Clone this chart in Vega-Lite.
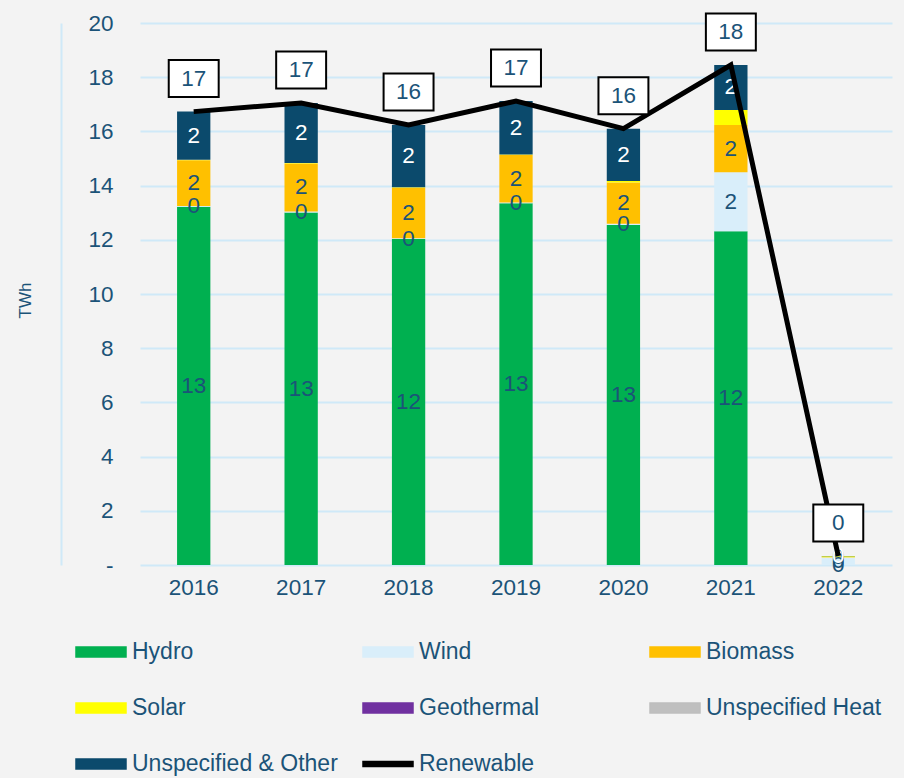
{
  "$schema": "https://vega.github.io/schema/vega-lite/v6.json",
  "width": 752,
  "height": 542,
  "autosize": {"type": "none"},
  "padding": {"left": 140, "top": 23, "right": 12, "bottom": 213},
  "background": "#f3f3f3",
  "config": {
    "view": {"stroke": null},
    "font": "Liberation Sans",
    "axis": {"labelColor": "#1b5378", "titleColor": "#1b5378", "labelFontSize": 22.5, "titleFontWeight": "normal"}
  },
  "data": {
    "values": [
      {"year": "2016", "source": "Hydro", "value": 13.22},
      {"year": "2016", "source": "Wind", "value": 0.03},
      {"year": "2016", "source": "Biomass", "value": 1.69},
      {"year": "2016", "source": "Solar", "value": 0.01},
      {"year": "2016", "source": "Geothermal", "value": 0},
      {"year": "2016", "source": "Unspecified Heat", "value": 0},
      {"year": "2016", "source": "Unspecified & Other", "value": 1.78},
      {"year": "2017", "source": "Hydro", "value": 13.01},
      {"year": "2017", "source": "Wind", "value": 0.03},
      {"year": "2017", "source": "Biomass", "value": 1.78},
      {"year": "2017", "source": "Solar", "value": 0.01},
      {"year": "2017", "source": "Geothermal", "value": 0},
      {"year": "2017", "source": "Unspecified Heat", "value": 0},
      {"year": "2017", "source": "Unspecified & Other", "value": 2.22},
      {"year": "2018", "source": "Hydro", "value": 12.03},
      {"year": "2018", "source": "Wind", "value": 0.03},
      {"year": "2018", "source": "Biomass", "value": 1.86},
      {"year": "2018", "source": "Solar", "value": 0.02},
      {"year": "2018", "source": "Geothermal", "value": 0},
      {"year": "2018", "source": "Unspecified Heat", "value": 0},
      {"year": "2018", "source": "Unspecified & Other", "value": 2.3},
      {"year": "2019", "source": "Hydro", "value": 13.35},
      {"year": "2019", "source": "Wind", "value": 0.03},
      {"year": "2019", "source": "Biomass", "value": 1.75},
      {"year": "2019", "source": "Solar", "value": 0.02},
      {"year": "2019", "source": "Geothermal", "value": 0},
      {"year": "2019", "source": "Unspecified Heat", "value": 0},
      {"year": "2019", "source": "Unspecified & Other", "value": 1.97},
      {"year": "2020", "source": "Hydro", "value": 12.55},
      {"year": "2020", "source": "Wind", "value": 0.04},
      {"year": "2020", "source": "Biomass", "value": 1.52},
      {"year": "2020", "source": "Solar", "value": 0.06},
      {"year": "2020", "source": "Geothermal", "value": 0},
      {"year": "2020", "source": "Unspecified Heat", "value": 0},
      {"year": "2020", "source": "Unspecified & Other", "value": 1.93},
      {"year": "2021", "source": "Hydro", "value": 12.32},
      {"year": "2021", "source": "Wind", "value": 2.17},
      {"year": "2021", "source": "Biomass", "value": 1.75},
      {"year": "2021", "source": "Solar", "value": 0.55},
      {"year": "2021", "source": "Geothermal", "value": 0},
      {"year": "2021", "source": "Unspecified Heat", "value": 0},
      {"year": "2021", "source": "Unspecified & Other", "value": 1.66},
      {"year": "2022", "source": "Hydro", "value": 0},
      {"year": "2022", "source": "Wind", "value": 0.28},
      {"year": "2022", "source": "Biomass", "value": 0.01},
      {"year": "2022", "source": "Solar", "value": 0.03},
      {"year": "2022", "source": "Geothermal", "value": 0},
      {"year": "2022", "source": "Unspecified Heat", "value": 0},
      {"year": "2022", "source": "Unspecified & Other", "value": 0.01}
    ]
  },
  "transform": [
    {"calculate": "indexof(['Hydro','Wind','Biomass','Solar','Geothermal','Unspecified Heat','Unspecified & Other'], datum.source)", "as": "ord"}
  ],
  "layer": [
    {
      "transform": [
        {"stack": "value", "groupby": ["year"], "sort": [{"field": "ord", "order": "ascending"}], "as": ["v0", "v1"]}
      ],
      "layer": [
        {
          "mark": {"type": "bar"},
          "encoding": {
            "x": {"field": "year", "type": "ordinal", "scale": {"paddingInner": 0.69, "paddingOuter": 0.345},
                  "axis": {"title": null, "labelAngle": 0, "domain": false, "ticks": false, "labelPadding": 11, "grid": false}},
            "y": {"field": "v1", "type": "quantitative", "title": "TWh",
                  "scale": {"domain": [0, 20], "nice": false},
                  "axis": {"values": [0, 2, 4, 6, 8, 10, 12, 14, 16, 18, 20], "labelExpr": "datum.value === 0 ? '-' : datum.label",
                           "grid": true, "gridColor": "#cfe9f8", "gridWidth": 2, "domain": true, "domainColor": "#cfe9f8", "domainWidth": 2,
                           "offset": 79, "ticks": false, "labelAlign": "right",
                           "labelPadding": -52, "titleFontSize": 17, "titleX": -36, "titleY": 277, "titleAngle": -90, "titleBaseline": "middle"}},
            "y2": {"field": "v0"},
            "color": {"field": "source", "type": "nominal",
              "scale": {"domain": ["Hydro", "Wind", "Biomass", "Solar", "Geothermal", "Unspecified Heat", "Unspecified & Other", "Renewable"],
                        "range": ["#00b050", "#d9eefa", "#ffc000", "#ffff00", "#7030a0", "#bfbfbf", "#0b4a6c", "#000000"]},
              "legend": {"title": null, "orient": "none", "legendX": -65, "legendY": 603, "columns": 3, "direction": "horizontal", "gridAlign": "all",
                         "columnPadding": 22, "rowPadding": 18, "labelFontSize": 23, "labelColor": "#1b5378", "labelOffset": 5,
                         "labelLimit": 400, "symbolSize": 2500, "padding": 0,
                         "encode": {"symbols": {"update": {
                           "shape": {"signal": "datum.label === 'Renewable' ? 'M-1,-0.1L1,-0.1L1,0.1L-1,0.1Z' : 'M-1,-0.2L1,-0.2L1,0.2L-1,0.2Z'"},
                           "fill": {"scale": "color", "field": "value"},
                           "stroke": {"value": "transparent"},
                           "opacity": {"value": 1}}}}}}
          }
        },
        {
          "transform": [
            {"filter": "indexof(['Hydro','Wind','Biomass','Unspecified & Other'], datum.source) >= 0"},
            {"calculate": "(datum.v0 + datum.v1) / 2", "as": "mid"}
          ],
          "mark": {"type": "text", "fontSize": 22.5, "baseline": "middle"},
          "encoding": {
            "x": {"field": "year", "type": "ordinal"},
            "y": {"field": "mid", "type": "quantitative", "title": "TWh"},
            "text": {"field": "value", "type": "quantitative", "format": ".0f"},
            "color": {"condition": {"test": "datum.source === 'Unspecified & Other'", "value": "white"}, "value": "#1b5378"}
          }
        }
      ]
    },
    {
      "transform": [
        {"aggregate": [{"op": "sum", "field": "value", "as": "total"}], "groupby": ["year"]}
      ],
      "layer": [
        {
          "mark": {"type": "line", "strokeWidth": 5},
          "encoding": {
            "x": {"field": "year", "type": "ordinal"},
            "y": {"field": "total", "type": "quantitative", "title": "TWh"},
            "color": {"datum": "Renewable"}
          }
        },
        {
          "mark": {"type": "point", "shape": "M-1.35,-1L1.35,-1L1.35,1L-1.35,1Z", "size": 1369, "filled": true,
                   "fill": "white", "stroke": "black", "strokeWidth": 2, "opacity": 1, "yOffset": -33},
          "encoding": {
            "x": {"field": "year", "type": "ordinal"},
            "y": {"field": "total", "type": "quantitative", "title": "TWh"}
          }
        },
        {
          "mark": {"type": "text", "fontSize": 22.5, "color": "#1b5378", "yOffset": -33, "baseline": "middle"},
          "encoding": {
            "x": {"field": "year", "type": "ordinal"},
            "y": {"field": "total", "type": "quantitative", "title": "TWh"},
            "text": {"field": "total", "type": "quantitative", "format": ".0f"}
          }
        }
      ]
    }
  ]
}
